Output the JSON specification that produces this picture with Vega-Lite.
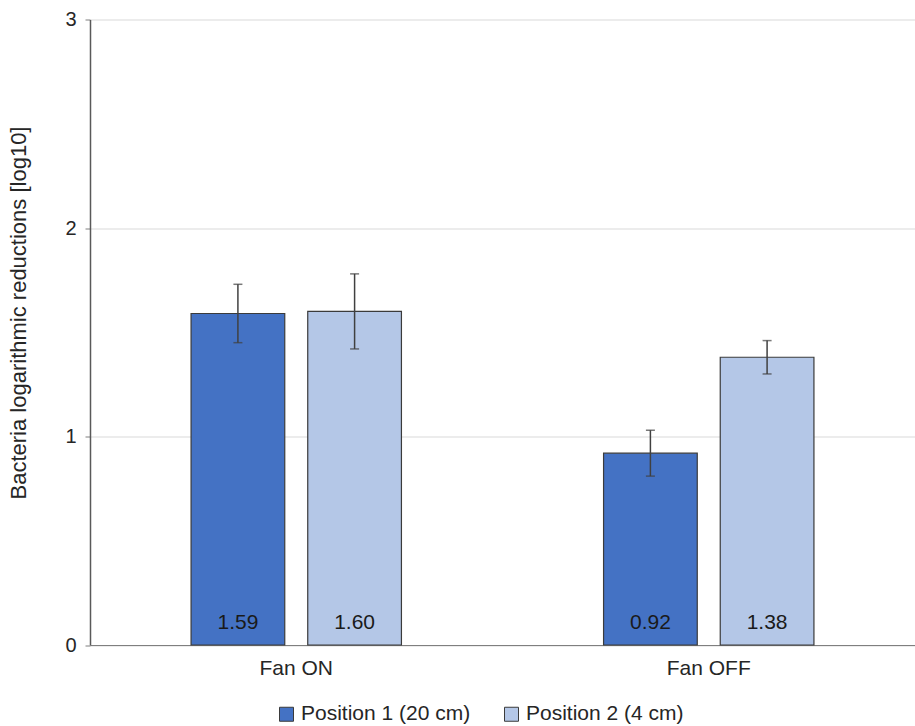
{
  "$schema": "https://vega.github.io/schema/vega-lite/v6.json",
  "width": 825,
  "height": 625.5,
  "autosize": {"type": "none"},
  "padding": {"left": 90, "top": 19.5, "right": 0, "bottom": 81},
  "background": "white",
  "config": {
    "font": "Liberation Sans",
    "view": {"stroke": null},
    "axis": {"labelFont": "Liberation Sans", "titleFont": "Liberation Sans"},
    "legend": {"labelFont": "Liberation Sans"}
  },
  "data": {
    "values": [
      {"fan": "Fan ON", "pos": "Position 1 (20 cm)", "value": 1.59, "lo": 1.45, "hi": 1.73, "label": "1.59"},
      {"fan": "Fan ON", "pos": "Position 2 (4 cm)", "value": 1.60, "lo": 1.42, "hi": 1.78, "label": "1.60"},
      {"fan": "Fan OFF", "pos": "Position 1 (20 cm)", "value": 0.92, "lo": 0.81, "hi": 1.03, "label": "0.92"},
      {"fan": "Fan OFF", "pos": "Position 2 (4 cm)", "value": 1.38, "lo": 1.30, "hi": 1.46, "label": "1.38"}
    ]
  },
  "encoding": {
    "x": {
      "field": "fan", "type": "nominal", "sort": ["Fan ON", "Fan OFF"],
      "scale": {"paddingInner": 0.49, "paddingOuter": 0.245},
      "axis": {
        "title": null, "labelAngle": 0, "ticks": false, "labelPadding": 12,
        "labelFontSize": 21, "labelColor": "#262626",
        "domainColor": "#7f7f7f", "domainWidth": 1.2, "grid": false
      }
    },
    "xOffset": {
      "field": "pos", "type": "nominal",
      "scale": {"paddingInner": 0.197, "paddingOuter": 0}
    }
  },
  "layer": [
    {
      "mark": {"type": "bar", "stroke": "#3b3b3b", "strokeWidth": 1.2},
      "encoding": {
        "y": {
          "field": "value", "type": "quantitative",
          "scale": {"domain": [0, 3]},
          "axis": {
            "values": [0, 1, 2, 3], "format": "d",
            "title": "Bacteria logarithmic reductions [log10]",
            "titleFontSize": 22, "titleFontWeight": "normal", "titleColor": "#262626",
            "titleX": -72, "titleY": 293, "titleBaseline": "middle", "titleAngle": -90,
            "labelFontSize": 20, "labelColor": "#262626", "labelPadding": 9,
            "tickSize": 5, "tickColor": "#7f7f7f",
            "domainColor": "#595959", "domainWidth": 1.5,
            "gridColor": "#d9d9d9", "gridWidth": 1.2
          }
        },
        "color": {
          "field": "pos", "type": "nominal",
          "scale": {"domain": ["Position 1 (20 cm)", "Position 2 (4 cm)"], "range": ["#4472c4", "#b4c7e7"]},
          "legend": {
            "title": null, "orient": "none", "legendX": 186, "legendY": 684, "direction": "horizontal",
            "labelFontSize": 21, "labelColor": "#262626", "labelLimit": 400,
            "symbolType": "square", "symbolSize": 196, "symbolStrokeColor": "#3b3b3b",
            "symbolStrokeWidth": 1, "columnPadding": 30, "labelOffset": 4
          }
        }
      }
    },
    {
      "mark": {"type": "rule", "color": "#404040", "strokeWidth": 1.5},
      "encoding": {
        "y": {"field": "lo", "type": "quantitative"},
        "y2": {"field": "hi"}
      }
    },
    {
      "mark": {"type": "tick", "color": "#404040", "thickness": 1.5, "size": 9},
      "encoding": {"y": {"field": "lo", "type": "quantitative"}}
    },
    {
      "mark": {"type": "tick", "color": "#404040", "thickness": 1.5, "size": 9},
      "encoding": {"y": {"field": "hi", "type": "quantitative"}}
    },
    {
      "mark": {"type": "text", "fontSize": 21, "color": "#1a1a1a", "baseline": "middle", "dy": -22},
      "encoding": {
        "y": {"datum": 0, "type": "quantitative"},
        "text": {"field": "label"}
      }
    }
  ]
}
